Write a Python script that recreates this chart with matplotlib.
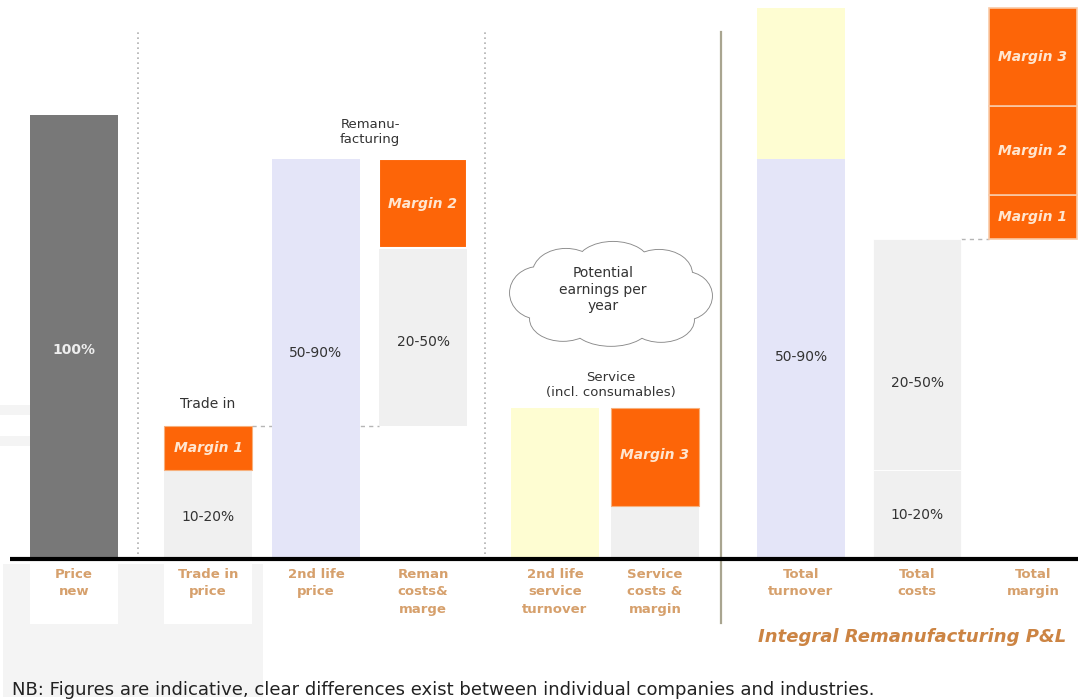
import matplotlib
matplotlib.use("Agg")
import matplotlib.pyplot as plt
from matplotlib.patches import Rectangle, Ellipse

# ── Data (share of the new price, %) ─────────────────────────────────────────

categories = ["Price\nnew", "Trade in\nprice", "2nd life\nprice", "Reman\ncosts&\nmarge",
              "2nd life\nservice\nturnover", "Service\ncosts &\nmargin",
              "Total\nturnover", "Total\ncosts", "Total\nmargin"]

price_new = 100
trade_in_cost = 20
margin_1 = 10
second_life_price = 90
reman_cost = 40
margin_2 = 20
service_turnover = 34
service_cost = 12
margin_3 = 22

# ── Layout / style ───────────────────────────────────────────────────────────

X_POS = [74, 208, 316, 423, 555, 655, 801, 917, 1033]   # pixel-like x units
W = 88
DARK = "#787878"
LAVENDER = "#e4e5f8"
LIGHT = "#f0f0f0"
ORANGE = "#fd6508"
YELLOW = "#fefdd2"
CAT_COLOR = "#d6a06c"
TXT = "#333333"

fig = plt.figure(figsize=(10.78, 6.99), dpi=100)
ax = fig.add_axes([0, 0, 1, 1])
ax.set_xlim(0, 1078)
ax.set_ylim(-31.5, 125.9)
ax.axis("off")
PX = 444 / 100.0   # pixels per % unit on the y axis


def bar(i, bottom, height, color, z=2, edge="none", lw=0):
    ax.bar(X_POS[i], height, width=W, bottom=bottom, color=color,
           edgecolor=edge, linewidth=lw, zorder=z)


def lab(i, y, s, color=TXT, size=10, weight="normal", style="normal", dx=0):
    ax.text(X_POS[i] + dx, y, s, ha="center", va="center", color=color,
            fontsize=size, fontweight=weight, fontstyle=style, zorder=8)


# faint watermark in the lower left corner
ax.add_patch(Rectangle((3, -31), 260, 30, color="#f4f4f4", zorder=0, lw=0))
for y0 in (32.5, 25.5):
    ax.add_patch(Rectangle((0, y0), 30, 2.3, color="#f4f4f4", zorder=0, lw=0))
for i in (0, 1):
    ax.add_patch(Rectangle((X_POS[i] - W / 2, -14.5), W, 13.5, color="white",
                           zorder=0.5, lw=0))

# separators
for xv in (138, 485):
    ax.plot([xv, xv], [0, 118.7], color="#b0b0b0", linestyle=(0, (1, 2)),
            linewidth=1.2, zorder=1)
ax.plot([721, 721], [-14.4, 118.7], color="#a9a590", linewidth=1.6, zorder=1)

# connector dashes
trade_in_price = trade_in_cost + margin_1
total_costs = trade_in_cost + reman_cost + service_cost
ax.plot([X_POS[1] + W / 2, X_POS[3] - W / 2], [trade_in_price] * 2,
        color="#b5b5b5", linestyle=(0, (3, 3)), linewidth=1, zorder=1)
ax.plot([X_POS[7] + W / 2, X_POS[8] - W / 2], [total_costs] * 2,
        color="#b5b5b5", linestyle=(0, (3, 3)), linewidth=1, zorder=1)

# bars
bar(0, 0, price_new, DARK)
bar(1, 0, trade_in_cost, LIGHT)
bar(1, trade_in_cost, margin_1, ORANGE, z=3, edge="#f7b07c", lw=0.8)
bar(2, 0, second_life_price, LAVENDER)
bar(3, trade_in_price, reman_cost, LIGHT)
bar(3, trade_in_price + reman_cost, margin_2, ORANGE, z=3, edge="white", lw=1.5)
bar(4, 0, service_turnover, YELLOW)
bar(5, 0, service_cost, LIGHT)
bar(5, service_cost, margin_3, ORANGE, z=3, edge="#f7b07c", lw=0.8)
bar(6, 0, second_life_price, LAVENDER)
bar(6, second_life_price, service_turnover, YELLOW)
bar(7, 0, trade_in_cost, LIGHT, edge="white", lw=0.6)
bar(7, trade_in_cost, reman_cost + service_cost, LIGHT, edge="white", lw=0.6)
m_bottom = total_costs
for m in (margin_1, margin_2, margin_3):
    bar(8, m_bottom, m, ORANGE, z=3, edge="#f9c9a6", lw=1.2)
    m_bottom += m

# baseline
ax.plot([10, 1078], [0, 0], color="black", linewidth=3, zorder=6, solid_capstyle="butt")

# labels inside / above bars
lab(0, 47, "100%", color="#eeeeee", weight="bold")
lab(1, 9.5, "10-20%")
lab(1, 25, "Margin 1", color="#ffe6d0", weight="bold", style="italic")
lab(1, 35, "Trade in")
lab(2, 46.5, "50-90%")
lab(3, 49, "20-50%")
lab(3, 80, "Margin 2", color="#ffe6d0", weight="bold", style="italic")
lab(3, 96.2, "Remanu-\nfacturing", dx=-53, size=9.5)
lab(5, 23.4, "Margin 3", color="#ffe6d0", weight="bold", style="italic")
lab(5, 39.3, "Service\n(incl. consumables)", dx=-44, size=9.5)
lab(6, 45.5, "50-90%")
lab(7, 39.6, "20-50%")
lab(7, 10, "10-20%")
m_bottom = total_costs
for k, m in enumerate((margin_1, margin_2, margin_3)):
    lab(8, m_bottom + m / 2, f"Margin {k + 1}", color="#ffe6d0", weight="bold", style="italic")
    m_bottom += m

# category labels under the baseline
for i, c in enumerate(categories):
    ax.text(X_POS[i], -2.0, c, ha="center", va="top", color=CAT_COLOR,
            fontsize=9.5, fontweight="bold", linespacing=1.45, zorder=8)

# cloud
cx, cy = 611, 59.5
bumps = [(-72, 2, 58, 52), (-45, 22, 66, 48), (2, 30, 74, 46), (48, 21, 66, 48),
         (74, -1, 54, 48), (50, -25, 66, 44), (0, -30, 78, 42), (-48, -24, 66, 44),
         (0, 0, 150, 70)]
for z, ec, lw in ((5, "#8a8a8a", 1.3), (5.5, "none", 0)):
    for dx, dy, w, h in bumps:
        ax.add_patch(Ellipse((cx + dx, cy + dy / PX), w, h / PX, facecolor="white",
                             edgecolor=ec, linewidth=lw, zorder=z))
ax.text(cx - 8, cy + 1.2, "Potential\nearnings per\nyear", ha="center", va="center",
        color=TXT, fontsize=10, linespacing=1.25, zorder=8)

# footer texts
ax.text(912, -17.6, "Integral Remanufacturing P&L", ha="center", va="center",
        color="#cc8443", fontsize=13, fontweight="bold", fontstyle="italic", zorder=8)
ax.text(12, -29.5, "NB: Figures are indicative, clear differences exist between "
        "individual companies and industries.", ha="left", va="center",
        color="#222222", fontsize=13, zorder=8)

plt.savefig("out.png", dpi=100)
